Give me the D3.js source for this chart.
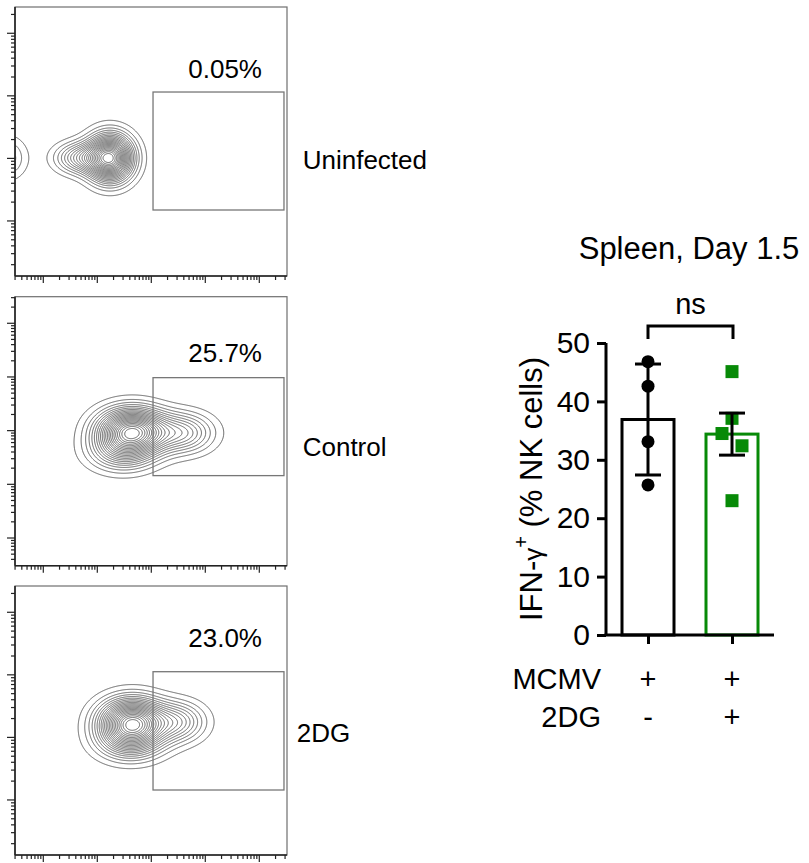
<!DOCTYPE html>
<html>
<head>
<meta charset="utf-8">
<script src="https://cdn.jsdelivr.net/npm/d3@7"></script>
<style>
  html, body { margin: 0; padding: 0; background: #fff; }
  svg { display: block; }
  text { font-family: Arial, "Liberation Sans", Helvetica, sans-serif; fill: #000; }
</style>
</head>
<body>
<svg id="chart" width="809" height="863"></svg>
<script>
// ---------------- DATA ----------------
// Flow cytometry panels
const sampleNames = ["Uninfected", "Control", "2DG"];
const gatePercents = ["0.05%", "25.7%", "23.0%"];
// log10 axis ranges of each panel (x shared)
const xLogDomain = [0.476, 5.513];
const yLogDomains = [[1.12, 5.42], [0.484, 5.495], [1.12, 5.42]];
// IFN-γ+ gate bounds (log10 units)
const gateLogX = [3.032, 5.457];
const gateLogY = [[2.175, 4.061], [2.162, 3.987], [2.159, 4.050]];
// estimated cell populations: [log10 x, log10 y, spread x, spread y, weight]
const uninfectedPops = [[2.235, 3.006, 0.270, 0.240, 1], [1.680, 3.006, 0.296, 0.160, 0.35], [0.300, 3.006, 0.250, 0.220, 0.18]];
const controlPops    = [[2.643, 2.990, 0.407, 0.270, 1], [3.587, 2.957, 0.370, 0.242, 0.35], [2.457, 2.603, 0.407, 0.242, 0.30]];
const dgPops         = [[2.643, 3.246, 0.389, 0.240, 1], [3.495, 3.246, 0.333, 0.208, 0.33], [2.606, 2.926, 0.407, 0.208, 0.30]];
const panelPops = [uninfectedPops, controlPops, dgPops];

// Bar chart
const barTitle = "Spleen, Day 1.5";
const barGroups = ["Control", "2DG"];
const barMeans = [36.9, 34.4];
const barErrors = [9.5, 3.6];
const controlPoints = [46.8, 42.6, 33.1, 25.7];
const dgPoints = [45.1, 37.1, 34.5, 32.4, 23.0];
const dgJitter = [0, 0, -1, 1, 0];
const yTicks = [0, 10, 20, 30, 40, 50];
const rowLabels = ["MCMV", "2DG"];
const rowSigns = [["+", "+"], ["-", "+"]];
const sigLabel = "ns";

// ---------------- LAYOUT ----------------
const svg = d3.select("#chart");
svg.append("rect").attr("width", 809).attr("height", 863).attr("fill", "#fff");

const panelLeft = 15, panelW = 272, panelH = 269;
const panelTops = [7, 296.7, 586];
const pctBaselines = [71.3, 65, 60.7];
const nameBaselines = [162.3, 159.3, 155.7];
const nameX = [287.7, 287.7, 281.7];
const green = "#078a07";

panelTops.forEach((top, p) => {
  const g = svg.append("g").attr("transform", `translate(${panelLeft},${top})`);
  const x = d3.scaleLog().domain(xLogDomain.map(v => Math.pow(10, v))).range([0, panelW]);
  const y = d3.scaleLog().domain(yLogDomains[p].map(v => Math.pow(10, v))).range([panelH, 0]);

  // density grid
  const pops = panelPops[p];
  const vals = new Float64Array(panelW * panelH);
  let mx = 0;
  for (let j = 0; j < panelH; j++) {
    const ly = Math.log10(y.invert(j + 0.5));
    for (let i = 0; i < panelW; i++) {
      const lx = Math.log10(x.invert(i + 0.5));
      let s = 0;
      for (const [cx, cy, sx, sy, w] of pops) {
        const dx = (lx - cx) / sx, dy = (ly - cy) / sy;
        s += w * Math.exp(-0.5 * (dx * dx + dy * dy));
      }
      vals[j * panelW + i] = s;
      if (s > mx) mx = s;
    }
  }
  const thresholds = d3.range(22).map(k => mx * (0.04 + k * 0.0435));
  const contours = d3.contours().size([panelW, panelH]).thresholds(thresholds)(vals);

  const clipId = "clip" + p;
  g.append("clipPath").attr("id", clipId).append("rect")
    .attr("width", panelW).attr("height", panelH);
  g.append("g").attr("clip-path", `url(#${clipId})`)
    .selectAll("path").data(contours).join("path")
    .attr("d", d3.geoPath())
    .attr("fill", "none")
    .attr("stroke", "#555")
    .attr("stroke-width", 0.9);

  // frame
  g.append("rect").attr("width", panelW).attr("height", panelH)
    .attr("fill", "none").attr("stroke", "#6f6f6f").attr("stroke-width", 1.2);
  g.append("line").attr("x1", 0).attr("x2", 0).attr("y1", 0).attr("y2", panelH)
    .attr("stroke", "#222").attr("stroke-width", 1.6);
  g.append("line").attr("x1", 0).attr("x2", panelW).attr("y1", panelH).attr("y2", panelH)
    .attr("stroke", "#222").attr("stroke-width", 1.6);

  const isMajor = t => Math.abs(Math.log10(t) - Math.round(Math.log10(t))) < 1e-6;
  g.append("g").selectAll("line").data(x.ticks()).join("line")
    .attr("x1", d => x(d)).attr("x2", d => x(d))
    .attr("y1", panelH).attr("y2", d => panelH + (isMajor(d) ? 7 : 4))
    .attr("stroke", "#222").attr("stroke-width", 1.2);
  g.append("g").selectAll("line").data(y.ticks()).join("line")
    .attr("y1", d => y(d)).attr("y2", d => y(d))
    .attr("x1", 0).attr("x2", d => isMajor(d) ? -8 : -4)
    .attr("stroke", "#222").attr("stroke-width", 1.2);

  // gate
  const gx0 = x(Math.pow(10, gateLogX[0])), gx1 = x(Math.pow(10, gateLogX[1]));
  const gy0 = y(Math.pow(10, gateLogY[p][1])), gy1 = y(Math.pow(10, gateLogY[p][0]));
  g.append("rect").attr("x", gx0).attr("y", gy0)
    .attr("width", gx1 - gx0).attr("height", gy1 - gy0)
    .attr("fill", "none").attr("stroke", "#777").attr("stroke-width", 1.3);

  g.append("text").attr("x", 247).attr("y", pctBaselines[p])
    .attr("text-anchor", "end").attr("font-size", 26).text(gatePercents[p]);

  g.append("text").attr("x", nameX[p]).attr("y", nameBaselines[p])
    .attr("font-size", 26).text(sampleNames[p]);
});

// ---------------- BAR CHART ----------------
const yB = d3.scaleLinear().domain([0, 50]).range([635, 343]);
const xB = d3.scalePoint().domain(barGroups).range([606, 774]).padding(0.5);
const bw = 52;
const bc = svg.append("g");

// bars
bc.selectAll("rect.bar").data(barGroups).join("rect")
  .attr("class", "bar")
  .attr("x", d => xB(d) - bw / 2)
  .attr("y", (d, i) => yB(barMeans[i]))
  .attr("width", bw)
  .attr("height", (d, i) => yB(0) - yB(barMeans[i]))
  .attr("fill", "#fff")
  .attr("stroke", (d, i) => i === 0 ? "#000" : green)
  .attr("stroke-width", 3);

// axes
const yAxis = d3.axisLeft(yB).tickValues(yTicks).tickSize(9).tickSizeOuter(0).tickPadding(7);
const ya = bc.append("g").attr("transform", "translate(606,0)").call(yAxis);
ya.select(".domain").attr("stroke-width", 3).attr("d", `M0,${yB(50)}V${yB(0)}`);
ya.selectAll(".tick line").attr("stroke-width", 3);
ya.selectAll(".tick text").attr("font-size", 30).attr("font-family", "Arial, 'Liberation Sans', sans-serif");

const xAxis = d3.axisBottom(xB).tickSize(9).tickSizeOuter(0).tickFormat("");
const xa = bc.append("g").attr("transform", "translate(0,635)").call(xAxis);
xa.select(".domain").attr("stroke-width", 3).attr("d", "M604.5,0H774");
xa.selectAll(".tick line").attr("stroke-width", 3);

// points: control circles
bc.selectAll("circle.pt").data(controlPoints).join("circle")
  .attr("class", "pt")
  .attr("cx", xB(barGroups[0])).attr("cy", d => yB(d)).attr("r", 6.5)
  .attr("fill", "#000");

// points: 2DG squares
const sq = 13;
bc.selectAll("rect.pt").data(dgPoints).join("rect")
  .attr("class", "pt")
  .attr("x", (d, i) => xB(barGroups[1]) + dgJitter[i] * 10 - sq / 2)
  .attr("y", d => yB(d) - sq / 2)
  .attr("width", sq).attr("height", sq)
  .attr("fill", green);

// error bars
barGroups.forEach((gname, i) => {
  const cx = xB(gname);
  const top = yB(barMeans[i] + barErrors[i]), bot = yB(barMeans[i] - barErrors[i]);
  const eb = bc.append("g").attr("stroke", "#000").attr("stroke-width", 3);
  eb.append("line").attr("x1", cx).attr("x2", cx).attr("y1", top).attr("y2", bot);
  eb.append("line").attr("x1", cx - 13).attr("x2", cx + 13).attr("y1", top).attr("y2", top);
  eb.append("line").attr("x1", cx - 13).attr("x2", cx + 13).attr("y1", bot).attr("y2", bot);
});

// significance bracket
const bx0 = xB(barGroups[0]), bx1 = xB(barGroups[1]) + 1;
bc.append("path")
  .attr("d", `M${bx0},339V326H${bx1}V339`)
  .attr("fill", "none").attr("stroke", "#000").attr("stroke-width", 3);
bc.append("text").attr("x", (bx0 + bx1) / 2).attr("y", 314)
  .attr("text-anchor", "middle").attr("font-size", 29).text(sigLabel);

// title
bc.append("text").attr("x", 689).attr("y", 259)
  .attr("text-anchor", "middle").attr("font-size", 31).text(barTitle);

// y label
const yl = bc.append("text")
  .attr("transform", "translate(542,489) rotate(-90)")
  .attr("text-anchor", "middle").attr("font-size", 31);
yl.append("tspan").text("IFN-");
yl.append("tspan").attr("font-size", 26).text("γ");
yl.append("tspan").attr("font-size", 20).attr("dy", -14).text("+");
yl.append("tspan").attr("dy", 14).text(" (% NK cells)");

// treatment rows
const rowY = [689, 727];
rowLabels.forEach((lab, r) => {
  bc.append("text").attr("x", 601).attr("y", rowY[r]).attr("text-anchor", "end")
    .attr("font-size", 29).text(lab);
  barGroups.forEach((gname, i) => {
    bc.append("text").attr("x", xB(gname)).attr("y", rowY[r]).attr("text-anchor", "middle")
      .attr("font-size", 29).text(rowSigns[r][i]);
  });
});
</script>
</body>
</html>
